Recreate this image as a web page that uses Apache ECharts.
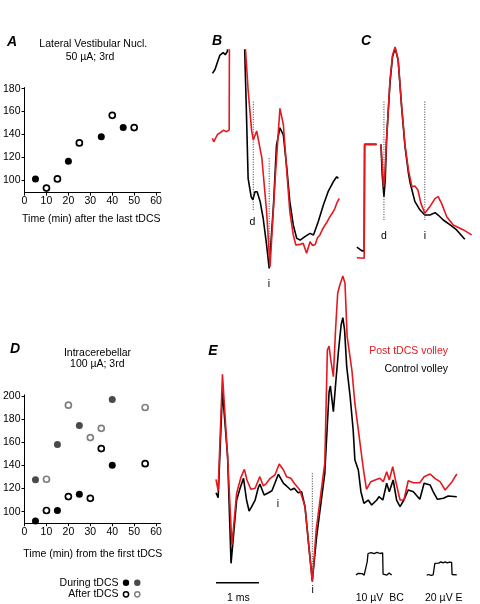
<!DOCTYPE html>
<html><head><meta charset="utf-8">
<script src="https://cdn.jsdelivr.net/npm/echarts@6/dist/echarts.min.js"></script>
<style>html,body{margin:0;padding:0;background:#fff}#c{width:480px;height:604px}</style>
</head><body><div id="c"></div>
<script>
// ---------- Panel A (Lateral Vestibular Nucl.) ----------
const aFilled = [[5,101],[20,116.5],[35,138],[45,146]];
const aOpen = [[10,93],[15,101],[25,132.5],[40,156.7],[50,146]];
const aYTicks = [100,120,140,160,180];
const xTicks = [0,10,20,30,40,50,60];

// ---------- Panel D (Intracerebellar) ----------
const dDuringBlack = [[5,92],[15,101],[25,115],[40,140]];
const dDuringGray = [[5,127.5],[15,158],[25,174.5],[40,197]];
const dAfterBlack = [[10,101],[20,113],[30,111.5],[35,154.5],[55,141.5]];
const dAfterGray = [[10,128],[20,192],[30,164],[35,172],[55,190]];
const dYTicks = [100,120,140,160,180,200];

// ---------- Panel B traces [ms, µV] ----------
const bBlack = [[0.01,59.2],[0.07,61],[0.12,64],[0.18,67.5],[0.22,67],[0.26,68.8],[0.31,67.8],[0.36,69.5],[0.40,70],[0.42,120],[0.74,120],[0.76,70],[0.80,41.4],[0.84,10.6],[0.91,2.1],[0.95,0.6],[1.00,4.4],[1.05,4.4],[1.12,-0.2],[1.19,-7.9],[1.27,-20.3],[1.33,-31.1],[1.43,-1.8],[1.50,26],[1.58,34],[1.66,30.6],[1.74,15.2],[1.81,-0.2],[1.89,-11],[1.97,-17.2],[2.05,-18],[2.16,-16.4],[2.28,-14.9],[2.36,-15.6],[2.47,-9.5],[2.59,-1.8],[2.70,4.4],[2.82,9],[2.90,11.3],[2.94,10.6]];
const bRed = [[0.01,29.1],[0.04,27.5],[0.07,27.9],[0.13,31],[0.18,31.5],[0.22,31.9],[0.26,32.8],[0.30,33],[0.34,32.2],[0.38,32.5],[0.40,33],[0.41,120],[0.76,120],[0.78,70],[0.84,51.5],[0.92,33],[0.96,28.3],[1.04,32.5],[1.08,28.3],[1.16,19.9],[1.27,-4.9],[1.35,-30.3],[1.47,10.6],[1.58,43],[1.66,35.3],[1.74,13.7],[1.81,-4.9],[1.89,-15.6],[1.95,-20.3],[2.05,-20],[2.12,-19.5],[2.20,-24.1],[2.28,-18.8],[2.34,-20.5],[2.40,-20],[2.45,-17],[2.51,-15.6],[2.57,-13],[2.63,-11],[2.68,-9.5],[2.74,-7.2],[2.80,-5.5],[2.86,-3.3],[2.91,-0.5],[2.96,1.3]];
const bDotD = [[0.96,46.1],[0.96,-4.1]];
const bDotI = [[1.33,19.9],[1.33,-30.9]];

// ---------- Panel C traces [ms, µV] ----------
const cBlackPre = [[0.02,-21.3],[0.13,-22.9],[0.19,-23.1],[0.20,26.3],[0.48,26.3]];
const cRedPre = [[0.02,-26.2],[0.19,-26.4],[0.20,26.3],[0.48,26.3]];
const cBlackPost = [[0.58,26.3],[0.61,12.1],[0.65,2.1],[0.68,9.8],[0.71,28.3],[0.79,54.6],[0.85,66.9],[0.91,70.8],[0.98,65.4],[1.06,43.8],[1.14,25.2],[1.22,12.9],[1.26,8.4],[1.37,-0.2],[1.49,-4.1],[1.60,-6.4],[1.72,-6.4],[1.84,-5.3],[1.91,-6.4],[2.03,-8.7],[2.19,-11],[2.34,-13.3],[2.53,-17.6]];
const cRedPost = [[0.58,26.3],[0.62,14.4],[0.64,6.6],[0.67,12.1],[0.71,28.3],[0.79,56.1],[0.85,67.7],[0.91,71.4],[0.98,65.4],[1.06,44.5],[1.14,26],[1.22,14.4],[1.30,6.7],[1.37,7],[1.44,5.2],[1.51,-1],[1.60,-5.6],[1.72,-2.5],[1.84,1.3],[1.91,2.1],[1.99,-1],[2.11,-7.2],[2.26,-11],[2.50,-13.3],[2.69,-15.6]];
const cDotD = [[0.65,46.1],[0.65,-8.7]];
const cDotI = [[1.60,46.1],[1.60,-8.7]];

// ---------- Panel E traces [ms, µV] ----------
const eBlack = [[0,-4.2],[0.05,-11.8],[0.15,152.3],[0.27,51.2],[0.35,-112.8],[0.48,-15.4],[0.56,2.6],[0.64,18],[0.71,-15.4],[0.77,-32.3],[0.83,-25.7],[0.91,-15.4],[0.98,2.6],[1.02,9.2],[1.12,-7.7],[1.14,-7.7],[1.22,-4.2],[1.30,-1.1],[1.37,10.3],[1.45,24.2],[1.57,10.3],[1.64,6.2],[1.74,0],[1.82,2.6],[1.91,-4.2],[1.99,-2.6],[2.07,-25.7],[2.16,-87.2],[2.24,-139.5],[2.34,-71.8],[2.53,25.7],[2.57,76.9],[2.63,150.8],[2.66,160],[2.73,120.5],[2.79,169.2],[2.85,215.4],[2.91,253.8],[2.95,265.1],[2.99,246.2],[3.04,189.7],[3.12,143.5],[3.19,92.3],[3.23,46.2],[3.31,30.8],[3.37,-2.6],[3.44,-20.5],[3.54,-15.4],[3.62,-23.1],[3.74,-15.4],[3.79,-10.3],[3.88,-15.4],[3.97,10.3],[4.03,-2.6],[4.12,15.4],[4.20,-15.4],[4.28,-25.7],[4.37,-15.4],[4.47,0],[4.59,-2.6],[4.74,-14.3],[4.84,10.3],[4.98,7.7],[5.05,-2.6],[5.15,-14.3],[5.29,-12.8],[5.40,-9.2],[5.60,-10.3]];
const eRed = [[0,16.5],[0.05,-1.5],[0.15,178],[0.27,51.2],[0.37,-84.6],[0.48,-5.1],[0.58,19.5],[0.66,31.8],[0.72,15.4],[0.81,1.1],[0.91,2.6],[1.02,20.5],[1.10,6.2],[1.16,9.2],[1.26,18],[1.37,23.1],[1.47,40],[1.57,30.8],[1.64,20.5],[1.74,18],[1.82,10.3],[1.95,0],[2.07,-25.7],[2.16,-87.2],[2.24,-141.5],[2.33,-61.5],[2.53,41.5],[2.59,215.4],[2.63,221.5],[2.67,200],[2.73,174.3],[2.78,246.2],[2.83,302.6],[2.88,315.4],[2.95,329.2],[3.00,318],[3.05,235.8],[3.16,184.6],[3.23,133.4],[3.33,82],[3.43,30.8],[3.50,1.1],[3.60,12.8],[3.70,15.4],[3.81,18],[3.89,12.8],[3.97,28.2],[4.03,15.4],[4.11,35.8],[4.19,10.3],[4.28,-15.4],[4.37,-15.4],[4.47,14.3],[4.59,11.2],[4.74,11.2],[4.84,20.5],[4.98,24.6],[5.09,18],[5.21,12.8],[5.33,0],[5.49,12.8],[5.60,24.6]];
const eDotI = [[2.24,25.7],[2.24,-139.5]];
const eScaleBar = [[0,-142.6],[1,-142.6]];           // 1 ms
const calE = [[4.90,-131],[4.95,-130],[5.00,-131.5],[5.05,-130.5],[5.07,-128],[5.09,-113],[5.13,-111],[5.18,-112.5],[5.23,-110.5],[5.28,-112],[5.33,-110.5],[5.38,-112],[5.43,-111],[5.48,-111.5],[5.49,-130],[5.53,-131],[5.60,-130.5]]; // 20 µV E
const calBC = [[0,-0.5],[0.05,0.3],[0.09,-0.6],[0.14,0.2],[0.19,-0.5],[0.23,0],[0.26,5.6],[0.28,9.5],[0.35,9.9],[0.42,9.4],[0.49,10],[0.56,9.5],[0.62,9.8],[0.63,0],[0.67,0.5],[0.72,-0.5],[0.77,0.5],[0.83,-0.5]]; // 10 µV BC

const FONT = '"Liberation Sans", Arial, Helvetica, sans-serif';
const RED = '#e3191f', BLK = '#000000';

const grids = [
  {left:21, top:87.6, width:139.5, height:105},     // A
  {left:21, top:394.8, width:139.5, height:128.4},  // D
  {left:212, top:50, width:129, height:237.6},      // B
  {left:356, top:28.4, width:120.4, height:259.2},  // C
  {left:216, top:262.5, width:240.8, height:325},   // E
  {left:356, top:548.1, width:36.1, height:32.4}    // BC calibration
];

function scatX(g){return {gridIndex:g,type:'value',min:0,max:62,
  axisLine:{show:true,lineStyle:{color:BLK,width:1}},
  axisTick:{show:true,length:3,lineStyle:{color:BLK},customValues:xTicks},
  axisLabel:{customValues:xTicks,color:BLK,fontSize:10.5,fontFamily:FONT,margin:3},
  splitLine:{show:false}};}
function scatY(g,min,max,ticks){return {gridIndex:g,type:'value',min:min,max:max,
  axisLine:{show:true,lineStyle:{color:BLK,width:1}},
  axisTick:{show:true,length:3,lineStyle:{color:BLK},customValues:ticks},
  axisLabel:{customValues:ticks,color:BLK,fontSize:10.5,fontFamily:FONT,margin:4},
  splitLine:{show:false}};}
function hidX(g,min,max){return {gridIndex:g,type:'value',min:min,max:max,show:false};}
function hidY(g,min,max){return {gridIndex:g,type:'value',min:min,max:max,show:false};}

function line(data,g,color,opts){
  opts = opts||{};
  return {type:'line',xAxisIndex:g,yAxisIndex:g,data:data,symbol:'none',
    clip:!!opts.clip,silent:true,animation:false,z:opts.z||3,
    lineStyle:{color:color,width:opts.width||1.6,type:opts.type||'solid',opacity:1}};
}
function scat(data,g,filled,color,size){
  return {type:'scatter',xAxisIndex:g,yAxisIndex:g,data:data,symbol:'circle',
    symbolSize:size,animation:false,silent:true,z:4,
    itemStyle: filled ? {color:color,borderWidth:0,opacity:1} : {color:'#fff',borderColor:color,borderWidth:1.7,opacity:1}};
}

const DOT = [1,1.5];
const series = [
  scat(aFilled,0,true,BLK,7), scat(aOpen,0,false,BLK,6),
  scat(dDuringBlack,1,true,BLK,7), scat(dDuringGray,1,true,'#4a4a4a',7),
  scat(dAfterBlack,1,false,BLK,6), scat(dAfterGray,1,false,'#808080',6),
  line(bBlack,2,BLK,{clip:true}), line(bRed,2,RED,{clip:true,z:4}),
  line(bDotD,2,'#333',{width:1,type:DOT}), line(bDotI,2,'#333',{width:1,type:DOT}),
  line(cBlackPre,3,BLK), line(cRedPre,3,RED,{z:4}),
  line(cBlackPost,3,BLK), line(cRedPost,3,RED,{z:4}),
  line(cDotD,3,'#333',{width:1,type:DOT}), line(cDotI,3,'#333',{width:1,type:DOT}),
  line(eBlack,4,BLK), line(eRed,4,RED,{z:4}),
  line(eDotI,4,'#333',{width:1,type:DOT}),
  line(eScaleBar,4,BLK,{width:1.6}),
  line(calE,4,BLK,{width:1.3}),
  line(calBC,5,BLK,{width:1.3})
];

function txt(s,x,y,opt){opt=opt||{};
  return {type:'text',x:x,y:y,z:10,silent:true,style:{text:s,fill:opt.fill||BLK,
    font:(opt.font||('10.5px '+FONT)),align:opt.align||'center',verticalAlign:'middle'}};}
const LETTER = 'italic bold 14px '+FONT;
const graphic = [
  txt('A',12,42,{font:LETTER}),
  txt('Lateral Vestibular Nucl.',93.3,44),
  txt('50 µA; 3rd',90,57.3),
  txt('Time (min) after the last tDCS',91.3,219),
  txt('B',217,41,{font:LETTER}),
  txt('C',366,41,{font:LETTER}),
  txt('d',252.5,222), txt('i',269,284),
  txt('d',384,236), txt('i',425,236),
  txt('D',15,349.3,{font:LETTER}),
  txt('Intracerebellar',97.5,353.3),
  txt('100 µA; 3rd',97.3,364.3),
  txt('Time (min) from the first tDCS',92.8,554),
  txt('During tDCS',118.5,582.7,{align:'right'}),
  txt('After tDCS',118.5,594.3,{align:'right'}),
  {type:'circle',z:10,silent:true,shape:{cx:126,cy:582.7,r:3.2},style:{fill:BLK}},
  {type:'circle',z:10,silent:true,shape:{cx:137.3,cy:582.7,r:3.2},style:{fill:'#4a4a4a'}},
  {type:'circle',z:10,silent:true,shape:{cx:126,cy:594.3,r:2.6},style:{fill:'#fff',stroke:BLK,lineWidth:1.5}},
  {type:'circle',z:10,silent:true,shape:{cx:137.3,cy:594.3,r:2.6},style:{fill:'#fff',stroke:'#808080',lineWidth:1.5}},
  txt('E',213,351,{font:LETTER}),
  txt('Post tDCS volley',448,351,{align:'right',fill:RED}),
  txt('Control volley',448,369,{align:'right'}),
  txt('i',278,504), txt('i',312.7,590),
  txt('1 ms',238.3,598),
  txt('10 µV  BC',379.7,598),
  txt('20 µV E',443.8,598)
];

const chart = echarts.init(document.getElementById('c'), null, {renderer:'canvas'});
chart.setOption({
  animation:false,
  backgroundColor:'#ffffff',
  grid:grids,
  xAxis:[scatX(0),scatX(1),hidX(2,0,3),hidX(3,0,2.8),hidX(4,0,5.6),hidX(5,0,0.84)],
  yAxis:[scatY(0,89,181,aYTicks),scatY(1,90,201,dYTicks),hidY(2,-40,70),hidY(3,-40,80),hidY(4,-150,350),hidY(5,-3,12)],
  series:series,
  graphic:graphic
});
</script></body></html>
